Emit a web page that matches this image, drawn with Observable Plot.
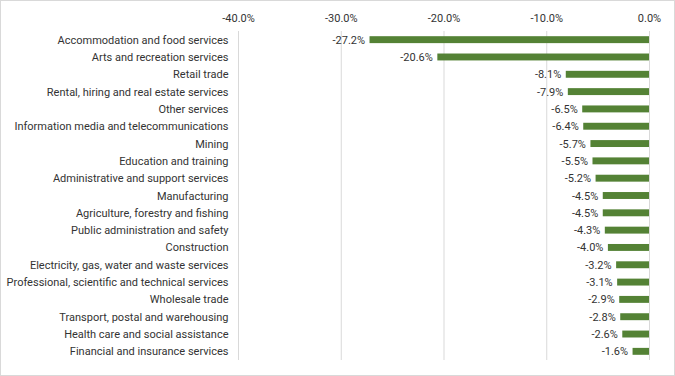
<!DOCTYPE html>
<html>
<head>
<meta charset="utf-8">
<script src="https://cdn.jsdelivr.net/npm/d3@7"></script>
<script src="https://cdn.jsdelivr.net/npm/@observablehq/plot@0.6"></script>
<style>
  html, body { margin: 0; padding: 0; background: #fff; }
  #chart { width: 673px; height: 374px; border: 1px solid #d9d9d9; overflow: hidden; }
  #chart svg { display: block; }
</style>
</head>
<body>
<div id="chart"></div>
<script>
const industries = [
  "Accommodation and food services",
  "Arts and recreation services",
  "Retail trade",
  "Rental, hiring and real estate services",
  "Other services",
  "Information media and telecommunications",
  "Mining",
  "Education and training",
  "Administrative and support services",
  "Manufacturing",
  "Agriculture, forestry and fishing",
  "Public administration and safety",
  "Construction",
  "Electricity, gas, water and waste services",
  "Professional, scientific and technical services",
  "Wholesale trade",
  "Transport, postal and warehousing",
  "Health care and social assistance",
  "Financial and insurance services"
];
const changes = [-27.2, -20.6, -8.1, -7.9, -6.5, -6.4, -5.7, -5.5, -5.2, -4.5, -4.5, -4.3, -4.0, -3.2, -3.1, -2.9, -2.8, -2.6, -1.6];
const xTicks = [-40, -30, -20, -10, 0];

const data = industries.map((name, i) => ({name, value: changes[i]}));
const fmt = v => v.toFixed(1) + "%";

const chart = Plot.plot({
  width: 673,
  height: 374,
  marginLeft: 237,
  marginRight: 25,
  marginTop: 30,
  marginBottom: 15,
  style: {fontFamily: "Roboto, 'Liberation Sans', sans-serif", fontSize: "11px", color: "#333", background: "#fff"},
  x: {domain: [-40, 0], ticks: xTicks, tickFormat: fmt, axis: "top", label: null, tickSize: 0, tickPadding: 10},
  y: {domain: industries, label: null, tickSize: 0, tickPadding: 10, paddingInner: 0.6, paddingOuter: 0.3, round: false},
  marks: [
    Plot.gridX(xTicks, {stroke: "#d9d9d9", strokeOpacity: 1, strokeWidth: 1}),
    Plot.barX(data, {x: "value", y: "name", fill: "#548235"}),
    Plot.text(data, {x: "value", y: "name", text: d => fmt(d.value), textAnchor: "end", dx: -5, fill: "#333", fontSize: 11})
  ]
});
document.getElementById("chart").appendChild(chart);
</script>
</body>
</html>
